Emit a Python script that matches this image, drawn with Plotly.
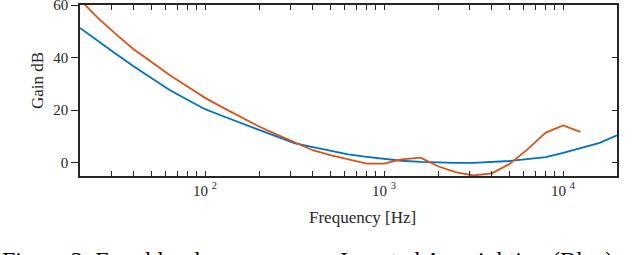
import plotly.graph_objects as go

# Frequencies (Hz) at which curves were read
freq = [20, 25, 31.5, 40, 50, 63, 80, 100, 125, 160, 200, 250, 315, 400, 500,
        630, 800, 1000, 1250, 1600, 2000, 2500, 3150, 4000, 5000, 6300, 8000,
        10000, 12500, 16000, 20000]
# Inverted A-weighting (blue)
blue_gain = [51.3, 46.4, 41.6, 36.6, 32.3, 27.8, 23.9, 20.4, 17.8, 14.9, 12.5,
             10.1, 7.5, 6.0, 4.7, 3.2, 2.3, 1.5, 0.8, 0.35, 0.1, 0.0, 0.0, 0.3,
             0.7, 1.4, 2.2, 3.8, 5.5, 7.6, 10.5]
# Equal loudness curve (orange)
orange_freq = freq[:29]
orange_gain = [62, 55.3, 49.1, 43.1, 38.4, 33.5, 28.9, 24.7, 21.1, 17.2, 13.8,
               10.8, 7.7, 4.8, 2.9, 1.3, -0.3, -0.3, 1.3, 2.0, -1.3, -3.5, -4.8,
               -4.0, -0.5, 5.0, 11.5, 14.2, 11.8]

x_tickvals = [20, 30, 40, 50, 60, 70, 80, 90, 100, 200, 300, 400, 500, 600,
              700, 800, 900, 1000, 2000, 3000, 4000, 5000, 6000, 7000, 8000,
              9000, 10000, 20000]
x_ticktext = ["", "", "", "", "", "", "", "", "10 <sup>2</sup>", "", "", "", "",
              "", "", "", "", "10 <sup>3</sup>", "", "", "", "", "", "", "", "",
              "10 <sup>4</sup>", ""]
y_ticks = [0, 20, 40, 60]
y_ticktext = ["0", "20", "40", "60"]

FONT = "Liberation Serif"
AX = "#262626"

fig = go.Figure()
fig.add_trace(go.Scatter(x=freq, y=blue_gain, mode="lines",
                         line=dict(color="#0072BD", width=1.8),
                         showlegend=False, hoverinfo="skip"))
fig.add_trace(go.Scatter(x=orange_freq, y=orange_gain, mode="lines",
                         line=dict(color="#D95319", width=1.8),
                         showlegend=False, hoverinfo="skip"))
# invisible trace to activate right-side axis
fig.add_trace(go.Scatter(x=freq, y=blue_gain, mode="lines", yaxis="y2",
                         opacity=0, showlegend=False, hoverinfo="skip"))

fig.update_layout(
    width=640, height=255,
    margin=dict(l=80, r=23, t=5, b=79, autoexpand=False),
    paper_bgcolor="white", plot_bgcolor="white",
    font=dict(family=FONT, color=AX, size=15),
    xaxis=dict(type="log", range=[1.30103, 4.30103], automargin=False,
               tickmode="array", tickvals=x_tickvals, ticktext=x_ticktext,
               ticks="inside", ticklen=5, tickwidth=1, tickcolor=AX,
               showline=True, linecolor=AX, linewidth=1.5, mirror="ticks",
               showgrid=False, zeroline=False, ticklabeloverflow="allow",
               tickfont=dict(family=FONT, size=15, color=AX)),
    yaxis=dict(range=[-5, 60.001], automargin=False,
               tickmode="array", tickvals=y_ticks, ticktext=y_ticktext,
               ticks="outside", ticklen=7, tickwidth=1, tickcolor=AX,
               showline=True, linecolor=AX, linewidth=1.5, mirror=False,
               showgrid=False, zeroline=False, ticklabeloverflow="allow",
               tickfont=dict(family=FONT, size=15, color=AX)),
    yaxis2=dict(range=[-5, 60.001], tickvals=y_ticks, overlaying="y", side="right",
                automargin=False,
                ticks="inside", ticklen=5, tickwidth=1, tickcolor=AX,
                showline=True, linecolor=AX, linewidth=1.5,
                showticklabels=False, showgrid=False, zeroline=False),
    annotations=[
        dict(text="Frequency [Hz]", xref="paper", yref="paper",
             x=(362 - 80) / 537, y=(176 - 217) / 171, xanchor="center",
             yanchor="middle", showarrow=False,
             font=dict(family=FONT, size=17, color=AX)),
        dict(text="Gain dB", xref="paper", yref="paper",
             x=(37 - 80) / 537, y=(176 - 81) / 171, xanchor="center",
             yanchor="middle", textangle=-90, showarrow=False,
             font=dict(family=FONT, size=17, color=AX)),
        dict(text="Figure 2: Equal loudness curve vs. Inverted A-weighting (Blue) and",
             xref="paper", yref="paper", x=(0 - 80) / 537, y=(176 - 244.5) / 171,
             xanchor="left", yanchor="top", showarrow=False,
             font=dict(family=FONT, size=24, color="black")),
    ],
)

fig.write_html("out.html", config={"displayModeBar": False},
               post_script="document.body.style.margin='0';"
                           "document.body.style.overflow='hidden';")
